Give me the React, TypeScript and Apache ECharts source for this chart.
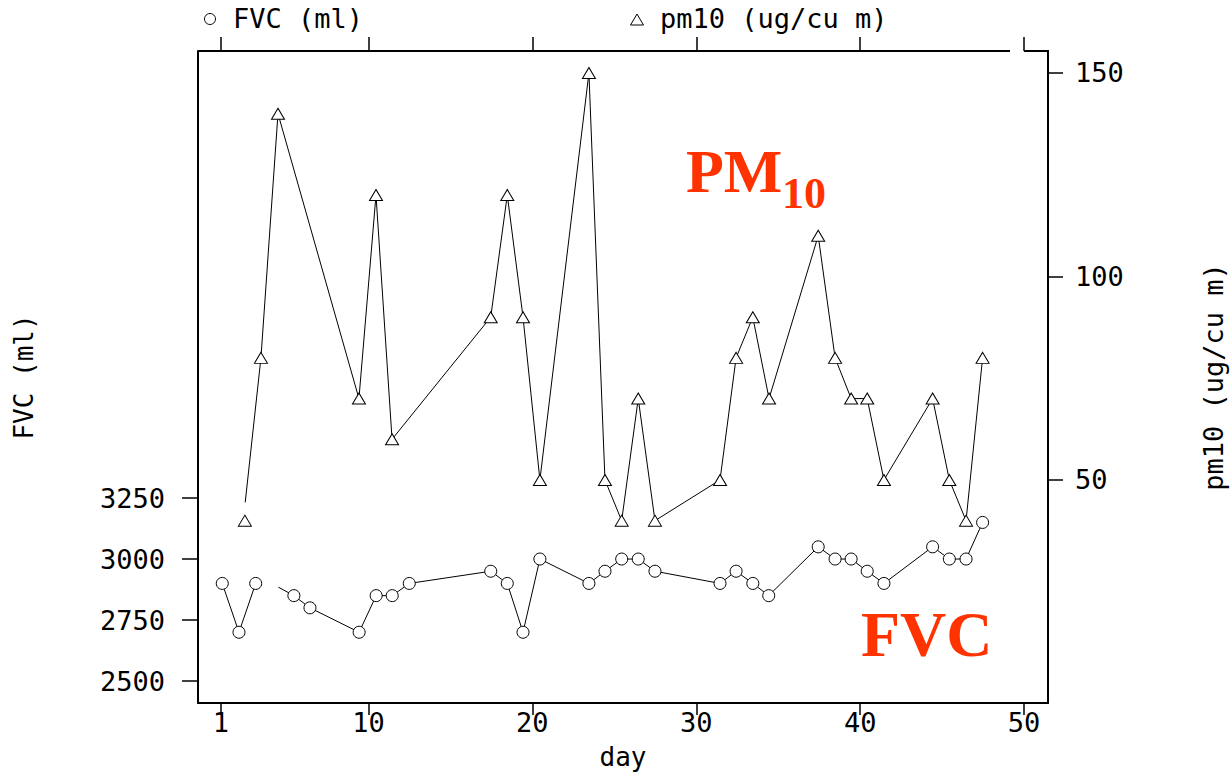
import React, { useEffect, useRef } from "react";
import * as echarts from "echarts";

// ---- data ----
const xTickValues = [1, 10, 20, 30, 40, 50];
const fvcTickValues = [2500, 2750, 3000, 3250];
const pmTickValues = [50, 100, 150];

// FVC, first connected segment
const fvcDaysA = [1.08, 2.1, 3.12];
const fvcValuesA = [2900, 2700, 2900];
// FVC, line start without marker, then second segment
const fvcLineStart = [4.5, 2885];
const fvcDaysB = [5.45, 6.43, 9.43, 10.47, 11.45, 12.49, 17.46, 18.47, 19.43, 20.46, 23.45, 24.43, 25.45, 26.46, 27.48, 31.45, 32.43, 33.45, 34.42, 37.44, 38.47, 39.45, 40.43, 41.45, 44.42, 45.44, 46.46, 47.47];
const fvcValuesB = [2850, 2800, 2700, 2850, 2850, 2900, 2950, 2900, 2700, 3000, 2900, 2950, 3000, 3000, 2950, 2900, 2950, 2900, 2850, 3050, 3000, 3000, 2950, 2900, 3050, 3000, 3000, 3150];

// PM10, first lone marker
const pmFirst = [2.46, 40];
// PM10, line start without marker, then connected series
const pmLineStart = [2.48, 44.5];
const pmDays = [3.44, 4.48, 9.42, 10.46, 11.44, 17.46, 18.47, 19.43, 20.46, 23.45, 24.43, 25.45, 26.46, 27.48, 31.45, 32.43, 33.45, 34.44, 37.44, 38.47, 39.45, 40.43, 41.45, 44.42, 45.44, 46.46, 47.47];
const pmValues = [80, 140, 70, 120, 60, 90, 120, 90, 50, 150, 50, 40, 70, 40, 50, 80, 90, 70, 110, 80, 70, 70, 50, 70, 50, 40, 80];

const FONT = "DejaVu Sans Mono";
const RED = "#ff3300";

export default function App() {
  const ref = useRef<HTMLDivElement>(null);

  useEffect(() => {
    if (!ref.current) return;
    const chart = echarts.init(ref.current, undefined, { renderer: "svg" });

    const txt = { fontFamily: FONT, fontSize: 26, color: "#000" };
    const tickTxt = { fontFamily: FONT, fontSize: 27, color: "#000" };
    const circleStyle = { color: "#fff", borderColor: "#000", borderWidth: 1 };
    const lineStyle = { color: "#000", width: 1 };
    const plain = (v: number) => String(v);

    const fvcA = fvcDaysA.map((d, i) => [d, fvcValuesA[i]]);
    const fvcB: any[] = [{ value: fvcLineStart, symbol: "none" }].concat(
      fvcDaysB.map((d, i) => [d, fvcValuesB[i]]) as any
    );
    const pmB: any[] = [{ value: pmLineStart, symbol: "none" }].concat(
      pmDays.map((d, i) => [d, pmValues[i]]) as any
    );

    const xCommon = {
      type: "value" as const,
      min: -0.4,
      max: 51.46,
      splitLine: { show: false },
    };

    chart.setOption({
      animation: false,
      backgroundColor: "#fff",
      grid: { left: 198, right: 182, top: 51, bottom: 69, containLabel: false, outerBoundsMode: "none" },
      xAxis: [
        {
          ...xCommon,
          position: "bottom",
          name: "day",
          nameLocation: "middle",
          nameGap: 41,
          nameTextStyle: txt,
          axisLine: { show: true, onZero: false, lineStyle: { color: "#000", width: 2 } },
          axisTick: { show: true, customValues: xTickValues, length: 12, lineStyle: { color: "#000", width: 1.5 } },
          axisLabel: { customValues: xTickValues, margin: 6, formatter: plain, ...tickTxt },
        },
        {
          ...xCommon,
          position: "top",
          axisLine: { show: false, onZero: false },
          axisTick: { show: true, customValues: xTickValues, length: 14, lineStyle: { color: "#000", width: 1.5 } },
          axisLabel: { show: false },
        },
      ],
      yAxis: [
        {
          type: "value",
          position: "left",
          min: 2410,
          max: 5082,
          splitLine: { show: false },
          name: "FVC (ml)",
          nameLocation: "middle",
          nameGap: 161,
          nameRotate: 90,
          nameTextStyle: txt,
          axisLine: { show: true, onZero: false, lineStyle: { color: "#000", width: 2 } },
          axisTick: { show: true, customValues: fvcTickValues, length: 16, lineStyle: { color: "#000", width: 1.5 } },
          axisLabel: { customValues: fvcTickValues, margin: 33, formatter: plain, ...tickTxt },
        },
        {
          type: "value",
          position: "right",
          min: -4.8,
          max: 155.4,
          splitLine: { show: false },
          name: "pm10 (ug/cu m)",
          nameLocation: "middle",
          nameGap: 152,
          nameRotate: 90,
          nameTextStyle: { ...txt, fontSize: 27 },
          axisLine: { show: true, onZero: false, lineStyle: { color: "#000", width: 2 } },
          axisTick: { show: true, customValues: pmTickValues, length: 15, lineStyle: { color: "#000", width: 1.5 } },
          axisLabel: { customValues: pmTickValues, margin: 27, formatter: plain, ...tickTxt },
        },
      ],
      graphic: [
        // top frame (with the small break before the last tick)
        { type: "line", shape: { x1: 198, y1: 51, x2: 1010, y2: 51 }, style: { stroke: "#000", lineWidth: 2 } },
        { type: "line", shape: { x1: 1024, y1: 51, x2: 1049, y2: 51 }, style: { stroke: "#000", lineWidth: 2 } },
        // legend keys
        { type: "circle", shape: { cx: 210, cy: 19, r: 5.5 }, style: { fill: "#fff", stroke: "#000", lineWidth: 1 } },
        { type: "text", x: 233, y: 18, style: { text: "FVC (ml)", fontFamily: FONT, fontSize: 27, fill: "#000", verticalAlign: "middle" } },
        { type: "polygon", shape: { points: [[630.5, 25], [643.5, 25], [637, 14]] }, style: { fill: "#fff", stroke: "#000", lineWidth: 1 } },
        { type: "text", x: 660, y: 18, style: { text: "pm10 (ug/cu m)", fontFamily: FONT, fontSize: 27, fill: "#000", verticalAlign: "middle" } },
        // annotations
        { type: "text", x: 686, y: 171, style: { text: "PM", fontFamily: "Liberation Serif", fontWeight: "bold", fontSize: 62, fill: RED, verticalAlign: "middle" } },
        { type: "text", x: 782, y: 193, style: { text: "10", fontFamily: "Liberation Serif", fontWeight: "bold", fontSize: 44, fill: RED, verticalAlign: "middle" } },
        { type: "text", x: 861, y: 634, style: { text: "FVC", fontFamily: "Liberation Serif", fontWeight: "bold", fontSize: 64, fill: RED, verticalAlign: "middle" } },
      ],
      series: [
        {
          name: "FVC (ml)",
          type: "line",
          xAxisIndex: 0,
          yAxisIndex: 0,
          data: fvcA,
          symbol: "circle",
          symbolSize: 12,
          itemStyle: circleStyle,
          lineStyle,
        },
        {
          name: "FVC (ml)",
          type: "line",
          xAxisIndex: 0,
          yAxisIndex: 0,
          data: fvcB,
          symbol: "circle",
          symbolSize: 12,
          itemStyle: circleStyle,
          lineStyle,
        },
        {
          name: "pm10 (ug/cu m)",
          type: "line",
          xAxisIndex: 0,
          yAxisIndex: 1,
          data: [pmFirst],
          symbol: "triangle",
          symbolSize: [13, 11],
          itemStyle: circleStyle,
          lineStyle,
        },
        {
          name: "pm10 (ug/cu m)",
          type: "line",
          xAxisIndex: 0,
          yAxisIndex: 1,
          data: pmB,
          symbol: "triangle",
          symbolSize: [13, 11],
          itemStyle: circleStyle,
          lineStyle,
        },
      ],
    });

    return () => chart.dispose();
  }, []);

  return (
    <div
      ref={ref}
      style={{ position: "absolute", left: 0, top: 0, width: 1230, height: 772, background: "#fff" }}
    />
  );
}
